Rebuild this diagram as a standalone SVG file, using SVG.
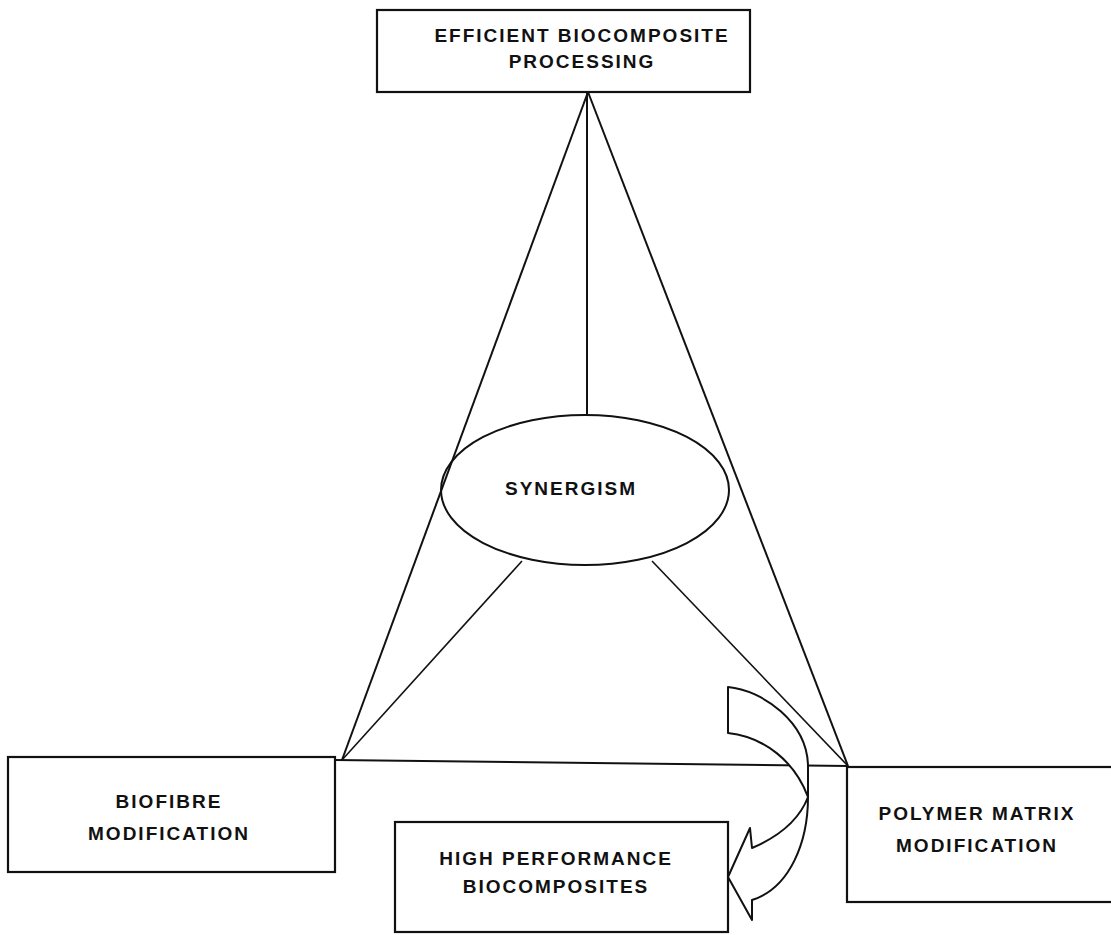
<svg xmlns="http://www.w3.org/2000/svg" width="1111" height="935" viewBox="0 0 1111 935">
<style>
.box{fill:#fff;stroke:#111;stroke-width:2.2}
.ln{fill:none;stroke:#111;stroke-width:2}
.thin{fill:none;stroke:#111;stroke-width:1.6}
.t{font-family:"Liberation Sans",Arial,sans-serif;font-size:19px;font-weight:bold;letter-spacing:2px;fill:#111;text-anchor:middle}
</style>
<rect width="1111" height="935" fill="#fff"/>
<g id="connectors">
<line class="ln" x1="588" y1="92" x2="342" y2="760"/>
<line class="ln" x1="588" y1="92" x2="848" y2="766"/>
<line class="ln" x1="587" y1="92" x2="587" y2="415"/>
<line class="thin" x1="522" y1="561" x2="342" y2="760"/>
<line class="thin" x1="652" y1="561" x2="848" y2="766"/>
<line class="ln" x1="335" y1="760" x2="848" y2="766"/>
</g>
<g id="top">
<rect class="box" x="377" y="10" width="373" height="82"/>
<text class="t" x="582" y="42">EFFICIENT BIOCOMPOSITE</text>
<text class="t" x="582" y="68">PROCESSING</text>
</g>
<g id="synergism">
<ellipse class="ln" cx="585" cy="490" rx="144" ry="75"/>
<text class="t" x="571" y="495">SYNERGISM</text>
</g>
<g id="biofibre">
<rect class="box" x="8" y="757" width="327" height="115"/>
<text class="t" x="169" y="808">BIOFIBRE</text>
<text class="t" x="169" y="840">MODIFICATION</text>
</g>
<g id="polymer">
<rect class="box" x="847" y="767" width="270" height="135"/>
<text class="t" x="977" y="820">POLYMER MATRIX</text>
<text class="t" x="977" y="852">MODIFICATION</text>
</g>
<g id="high">
<rect class="box" x="395" y="822" width="333" height="110"/>
<text class="t" x="556" y="865">HIGH PERFORMANCE</text>
<text class="t" x="556" y="893">BIOCOMPOSITES</text>
</g>
<g id="arrow">
<path fill="#fff" stroke="#111" stroke-width="2" stroke-linejoin="round" d="M728 687 C762 690 808 722 808 767 L808 797 C808 842 790 888 752 900 L752 920 L728 877 L750 828 L752 848 C780 836 800 818 808 797 C795 762 765 737 728 733 Z"/>
</g>
</svg>
